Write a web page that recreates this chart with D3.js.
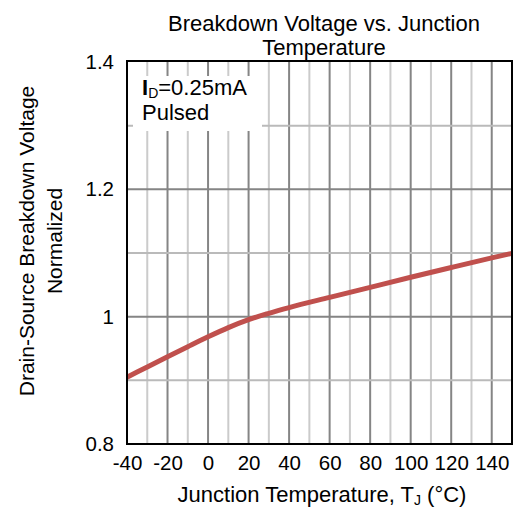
<!DOCTYPE html>
<html>
<head>
<meta charset="utf-8">
<script src="https://cdn.jsdelivr.net/npm/d3@7"></script>
<style>
  html, body { margin: 0; padding: 0; background: #fff; }
  svg { display: block; font-family: "Liberation Sans", Arial, sans-serif; }
</style>
</head>
<body>
<svg id="chart" width="515" height="511"></svg>
<script>
const temperatures = [-40, -30, -20, -10, 0, 10, 20, 30, 40, 60, 80, 100, 120, 140, 150];
const bvdssNorm = [0.905, 0.921, 0.937, 0.9528, 0.9683, 0.9828, 0.9953, 1.0053, 1.0143, 1.0303, 1.0461, 1.0619, 1.0773, 1.0923, 1.0995];
const xTicks = [-40, -20, 0, 20, 40, 60, 80, 100, 120, 140];
const yTicks = [0.8, 1, 1.2, 1.4];
const yTickLabels = ["0.8", "1", "1.2", "1.4"];
const titleLines = ["Breakdown Voltage vs. Junction", "Temperature"];
const yTitleLines = ["Drain-Source Breakdown Voltage", "Normalized"];

const svg = d3.select("#chart");
const m = {left: 127, top: 62, right: 3, bottom: 67};
const W = 515 - m.left - m.right, H = 511 - m.top - m.bottom;

const x = d3.scaleLinear().domain([-40, 150]).range([m.left, m.left + W]);
const y = d3.scaleLinear().domain([0.8, 1.4]).range([m.top + H, m.top]);

const g = svg.append("g");

// vertical gridlines
const vGrid = d3.range(-30, 150, 10);
g.selectAll("line.vg").data(vGrid).enter().append("line")
  .attr("x1", d => x(d)).attr("x2", d => x(d))
  .attr("y1", m.top).attr("y2", m.top + H)
  .attr("stroke", d => (d % 20 === 0) ? "#858585" : "#cbcbcb")
  .attr("stroke-width", 2);

// horizontal gridlines
const hGrid = [0.9, 1.0, 1.1, 1.2, 1.3];
g.selectAll("line.hg").data(hGrid).enter().append("line")
  .attr("x1", m.left).attr("x2", m.left + W)
  .attr("y1", d => y(d)).attr("y2", d => y(d))
  .attr("stroke", (d, i) => (i % 2 === 1) ? "#858585" : "#bababa")
  .attr("stroke-width", 2);

// legend box
g.append("rect").attr("x", 133).attr("y", 76).attr("width", 129).attr("height", 55).attr("fill", "#fff");
const leg = g.append("text").attr("x", 142).attr("y", 95).attr("font-size", 22).attr("fill", "#000");
leg.append("tspan").attr("font-weight", "bold").text("I");
leg.append("tspan").attr("font-size", 14).attr("dy", 3).text("D");
leg.append("tspan").attr("dy", -3).text("=0.25mA");
leg.append("tspan").attr("x", 142).attr("y", 120).text("Pulsed");

// curve
const pts = temperatures.map((t, i) => [t, bvdssNorm[i]]);
g.append("path").datum(pts)
  .attr("fill", "none").attr("stroke", "#c0504d").attr("stroke-width", 5)
  .attr("d", d3.line().x(d => x(d[0])).y(d => y(d[1])).curve(d3.curveMonotoneX));

// frame
g.append("rect").attr("x", m.left).attr("y", m.top - 1).attr("width", W).attr("height", H + 1)
  .attr("fill", "none").attr("stroke", "#000").attr("stroke-width", 2);

// axes
const xAxis = d3.axisBottom(x).tickValues(xTicks).tickSize(0).tickPadding(11).tickFormat(d => String(d));
const xa = svg.append("g").attr("transform", `translate(0,${m.top + H})`).call(xAxis);
xa.select(".domain").remove();
xa.selectAll("text").attr("font-size", 20.5).attr("fill", "#000").attr("font-family", "Liberation Sans, Arial, sans-serif");

const yAxis = d3.axisLeft(y).tickValues(yTicks).tickSize(0).tickPadding(13).tickFormat((d, i) => yTickLabels[i]);
const ya = svg.append("g").attr("transform", `translate(${m.left},0)`).call(yAxis);
ya.select(".domain").remove();
ya.selectAll("text").attr("font-size", 20.5).attr("fill", "#000").attr("font-family", "Liberation Sans, Arial, sans-serif");

// title
svg.selectAll("text.title").data(titleLines).enter().append("text")
  .attr("class", "title").attr("x", 324).attr("y", (d, i) => 31 + i * 24)
  .attr("text-anchor", "middle").attr("font-size", 22).attr("fill", "#000").text(d => d);

// x title
const xt = svg.append("text").attr("x", 322).attr("y", 502).attr("text-anchor", "middle")
  .attr("font-size", 22).attr("fill", "#000");
xt.append("tspan").text("Junction Temperature, T");
xt.append("tspan").attr("font-size", 14).attr("dy", 3).text("J");
xt.append("tspan").attr("dy", -3).text(" (°C)");

// y title
svg.selectAll("text.ytitle").data(yTitleLines).enter().append("text")
  .attr("class", "ytitle")
  .attr("transform", (d, i) => `translate(${34 + i * 28},241) rotate(-90)`)
  .attr("text-anchor", "middle").attr("font-size", 21).attr("fill", "#000").text(d => d);
</script>
</body>
</html>
